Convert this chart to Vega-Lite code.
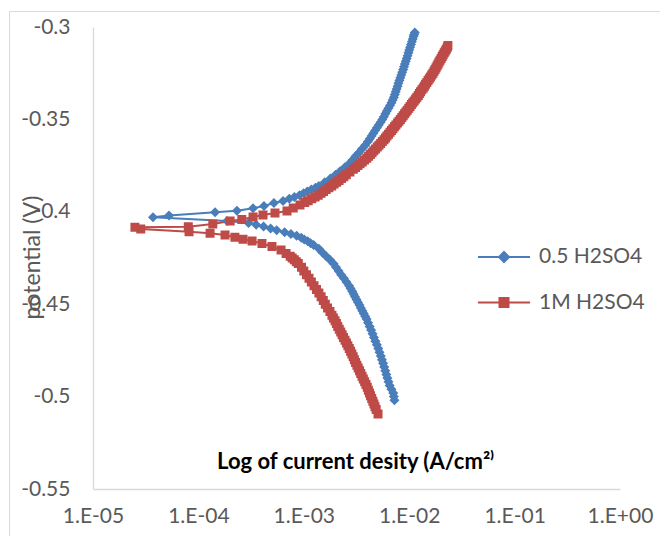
{
  "$schema": "https://vega.github.io/schema/vega-lite/v6.json",
  "width": 651,
  "height": 525,
  "autosize": {"type": "none"},
  "padding": {"left": 9, "top": 11, "right": 0, "bottom": 0},
  "background": "white",
  "config": {
    "view": {"stroke": "#d9d9d9", "strokeWidth": 1},
    "axis": {
      "grid": false, "ticks": false, "tickSize": 0,
      "domainColor": "#d9d9d9", "domainWidth": 1.3,
      "labelColor": "#595959", "labelFont": "Lato", "labelFontSize": 21,
      "titleColor": "#595959", "titleFont": "Lato", "titleFontSize": 23, "titleFontWeight": "normal"
    }
  },
  "data": {"values": [
    {"s":"0.5 H2SO4","j":7.24e-3,"v":-0.502},
    {"s":"0.5 H2SO4","j":7.15e-3,"v":-0.500},
    {"s":"0.5 H2SO4","j":7.06e-3,"v":-0.498},
    {"s":"0.5 H2SO4","j":6.78e-3,"v":-0.496},
    {"s":"0.5 H2SO4","j":6.52e-3,"v":-0.494},
    {"s":"0.5 H2SO4","j":6.36e-3,"v":-0.492},
    {"s":"0.5 H2SO4","j":6.21e-3,"v":-0.490},
    {"s":"0.5 H2SO4","j":6.07e-3,"v":-0.488},
    {"s":"0.5 H2SO4","j":5.93e-3,"v":-0.486},
    {"s":"0.5 H2SO4","j":5.79e-3,"v":-0.484},
    {"s":"0.5 H2SO4","j":5.65e-3,"v":-0.482},
    {"s":"0.5 H2SO4","j":5.51e-3,"v":-0.480},
    {"s":"0.5 H2SO4","j":5.38e-3,"v":-0.478},
    {"s":"0.5 H2SO4","j":5.23e-3,"v":-0.476},
    {"s":"0.5 H2SO4","j":5.09e-3,"v":-0.474},
    {"s":"0.5 H2SO4","j":4.93e-3,"v":-0.472},
    {"s":"0.5 H2SO4","j":4.78e-3,"v":-0.470},
    {"s":"0.5 H2SO4","j":4.63e-3,"v":-0.468},
    {"s":"0.5 H2SO4","j":4.49e-3,"v":-0.466},
    {"s":"0.5 H2SO4","j":4.35e-3,"v":-0.464},
    {"s":"0.5 H2SO4","j":4.21e-3,"v":-0.462},
    {"s":"0.5 H2SO4","j":4.07e-3,"v":-0.460},
    {"s":"0.5 H2SO4","j":3.94e-3,"v":-0.458},
    {"s":"0.5 H2SO4","j":3.82e-3,"v":-0.4565},
    {"s":"0.5 H2SO4","j":3.70e-3,"v":-0.455},
    {"s":"0.5 H2SO4","j":3.59e-3,"v":-0.4535},
    {"s":"0.5 H2SO4","j":3.48e-3,"v":-0.452},
    {"s":"0.5 H2SO4","j":3.37e-3,"v":-0.4505},
    {"s":"0.5 H2SO4","j":3.26e-3,"v":-0.449},
    {"s":"0.5 H2SO4","j":3.16e-3,"v":-0.4475},
    {"s":"0.5 H2SO4","j":3.06e-3,"v":-0.446},
    {"s":"0.5 H2SO4","j":2.97e-3,"v":-0.4445},
    {"s":"0.5 H2SO4","j":2.88e-3,"v":-0.443},
    {"s":"0.5 H2SO4","j":2.78e-3,"v":-0.4415},
    {"s":"0.5 H2SO4","j":2.69e-3,"v":-0.440},
    {"s":"0.5 H2SO4","j":2.54e-3,"v":-0.438},
    {"s":"0.5 H2SO4","j":2.40e-3,"v":-0.436},
    {"s":"0.5 H2SO4","j":2.26e-3,"v":-0.434},
    {"s":"0.5 H2SO4","j":2.14e-3,"v":-0.432},
    {"s":"0.5 H2SO4","j":2.02e-3,"v":-0.430},
    {"s":"0.5 H2SO4","j":1.91e-3,"v":-0.428},
    {"s":"0.5 H2SO4","j":1.77e-3,"v":-0.426},
    {"s":"0.5 H2SO4","j":1.63e-3,"v":-0.424},
    {"s":"0.5 H2SO4","j":1.50e-3,"v":-0.422},
    {"s":"0.5 H2SO4","j":1.39e-3,"v":-0.420},
    {"s":"0.5 H2SO4","j":1.24e-3,"v":-0.418},
    {"s":"0.5 H2SO4","j":1.16e-3,"v":-0.417},
    {"s":"0.5 H2SO4","j":1.09e-3,"v":-0.416},
    {"s":"0.5 H2SO4","j":1.01e-3,"v":-0.415},
    {"s":"0.5 H2SO4","j":9.46e-4,"v":-0.414},
    {"s":"0.5 H2SO4","j":8.55e-4,"v":-0.413},
    {"s":"0.5 H2SO4","j":7.55e-4,"v":-0.412},
    {"s":"0.5 H2SO4","j":6.58e-4,"v":-0.411},
    {"s":"0.5 H2SO4","j":5.53e-4,"v":-0.410},
    {"s":"0.5 H2SO4","j":4.84e-4,"v":-0.409},
    {"s":"0.5 H2SO4","j":4.15e-4,"v":-0.408},
    {"s":"0.5 H2SO4","j":3.53e-4,"v":-0.407},
    {"s":"0.5 H2SO4","j":2.99e-4,"v":-0.406},
    {"s":"0.5 H2SO4","j":1.87e-4,"v":-0.405},
    {"s":"0.5 H2SO4","j":3.71e-5,"v":-0.403},
    {"s":"0.5 H2SO4","j":5.26e-5,"v":-0.402},
    {"s":"0.5 H2SO4","j":1.44e-4,"v":-0.4003},
    {"s":"0.5 H2SO4","j":2.32e-4,"v":-0.3994},
    {"s":"0.5 H2SO4","j":3.30e-4,"v":-0.3981},
    {"s":"0.5 H2SO4","j":4.19e-4,"v":-0.3969},
    {"s":"0.5 H2SO4","j":5.21e-4,"v":-0.3952},
    {"s":"0.5 H2SO4","j":6.35e-4,"v":-0.3942},
    {"s":"0.5 H2SO4","j":7.28e-4,"v":-0.393},
    {"s":"0.5 H2SO4","j":8.15e-4,"v":-0.392},
    {"s":"0.5 H2SO4","j":9.12e-4,"v":-0.391},
    {"s":"0.5 H2SO4","j":9.95e-4,"v":-0.390},
    {"s":"0.5 H2SO4","j":1.08e-3,"v":-0.389},
    {"s":"0.5 H2SO4","j":1.18e-3,"v":-0.388},
    {"s":"0.5 H2SO4","j":1.29e-3,"v":-0.387},
    {"s":"0.5 H2SO4","j":1.39e-3,"v":-0.386},
    {"s":"0.5 H2SO4","j":1.58e-3,"v":-0.384},
    {"s":"0.5 H2SO4","j":1.79e-3,"v":-0.382},
    {"s":"0.5 H2SO4","j":2.00e-3,"v":-0.380},
    {"s":"0.5 H2SO4","j":2.21e-3,"v":-0.378},
    {"s":"0.5 H2SO4","j":2.44e-3,"v":-0.376},
    {"s":"0.5 H2SO4","j":2.69e-3,"v":-0.374},
    {"s":"0.5 H2SO4","j":2.90e-3,"v":-0.372},
    {"s":"0.5 H2SO4","j":3.10e-3,"v":-0.370},
    {"s":"0.5 H2SO4","j":3.33e-3,"v":-0.368},
    {"s":"0.5 H2SO4","j":3.56e-3,"v":-0.366},
    {"s":"0.5 H2SO4","j":3.82e-3,"v":-0.364},
    {"s":"0.5 H2SO4","j":4.06e-3,"v":-0.362},
    {"s":"0.5 H2SO4","j":4.23e-3,"v":-0.3605},
    {"s":"0.5 H2SO4","j":4.40e-3,"v":-0.359},
    {"s":"0.5 H2SO4","j":4.57e-3,"v":-0.3575},
    {"s":"0.5 H2SO4","j":4.75e-3,"v":-0.356},
    {"s":"0.5 H2SO4","j":4.94e-3,"v":-0.3545},
    {"s":"0.5 H2SO4","j":5.14e-3,"v":-0.353},
    {"s":"0.5 H2SO4","j":5.35e-3,"v":-0.3515},
    {"s":"0.5 H2SO4","j":5.56e-3,"v":-0.350},
    {"s":"0.5 H2SO4","j":5.75e-3,"v":-0.3485},
    {"s":"0.5 H2SO4","j":5.94e-3,"v":-0.347},
    {"s":"0.5 H2SO4","j":6.14e-3,"v":-0.3455},
    {"s":"0.5 H2SO4","j":6.35e-3,"v":-0.344},
    {"s":"0.5 H2SO4","j":6.57e-3,"v":-0.3425},
    {"s":"0.5 H2SO4","j":6.79e-3,"v":-0.341},
    {"s":"0.5 H2SO4","j":6.97e-3,"v":-0.3395},
    {"s":"0.5 H2SO4","j":7.16e-3,"v":-0.338},
    {"s":"0.5 H2SO4","j":7.30e-3,"v":-0.3365},
    {"s":"0.5 H2SO4","j":7.45e-3,"v":-0.335},
    {"s":"0.5 H2SO4","j":7.60e-3,"v":-0.3335},
    {"s":"0.5 H2SO4","j":7.76e-3,"v":-0.332},
    {"s":"0.5 H2SO4","j":7.91e-3,"v":-0.3305},
    {"s":"0.5 H2SO4","j":8.07e-3,"v":-0.329},
    {"s":"0.5 H2SO4","j":8.24e-3,"v":-0.3275},
    {"s":"0.5 H2SO4","j":8.41e-3,"v":-0.326},
    {"s":"0.5 H2SO4","j":8.59e-3,"v":-0.3245},
    {"s":"0.5 H2SO4","j":8.77e-3,"v":-0.323},
    {"s":"0.5 H2SO4","j":8.93e-3,"v":-0.3215},
    {"s":"0.5 H2SO4","j":9.10e-3,"v":-0.320},
    {"s":"0.5 H2SO4","j":9.28e-3,"v":-0.3185},
    {"s":"0.5 H2SO4","j":9.46e-3,"v":-0.317},
    {"s":"0.5 H2SO4","j":9.65e-3,"v":-0.3155},
    {"s":"0.5 H2SO4","j":9.84e-3,"v":-0.314},
    {"s":"0.5 H2SO4","j":1.00e-2,"v":-0.3125},
    {"s":"0.5 H2SO4","j":1.02e-2,"v":-0.311},
    {"s":"0.5 H2SO4","j":1.04e-2,"v":-0.3095},
    {"s":"0.5 H2SO4","j":1.06e-2,"v":-0.308},
    {"s":"0.5 H2SO4","j":1.08e-2,"v":-0.3065},
    {"s":"0.5 H2SO4","j":1.10e-2,"v":-0.305},
    {"s":"0.5 H2SO4","j":1.115e-2,"v":-0.304},
    {"s":"0.5 H2SO4","j":1.13e-2,"v":-0.303},
    {"s":"1M H2SO4","j":5.06e-3,"v":-0.5094},
    {"s":"1M H2SO4","j":4.86e-3,"v":-0.507},
    {"s":"1M H2SO4","j":4.74e-3,"v":-0.5055},
    {"s":"1M H2SO4","j":4.63e-3,"v":-0.504},
    {"s":"1M H2SO4","j":4.52e-3,"v":-0.5025},
    {"s":"1M H2SO4","j":4.41e-3,"v":-0.501},
    {"s":"1M H2SO4","j":4.30e-3,"v":-0.4995},
    {"s":"1M H2SO4","j":4.20e-3,"v":-0.498},
    {"s":"1M H2SO4","j":4.10e-3,"v":-0.4965},
    {"s":"1M H2SO4","j":4.00e-3,"v":-0.495},
    {"s":"1M H2SO4","j":3.89e-3,"v":-0.4935},
    {"s":"1M H2SO4","j":3.78e-3,"v":-0.492},
    {"s":"1M H2SO4","j":3.67e-3,"v":-0.4905},
    {"s":"1M H2SO4","j":3.57e-3,"v":-0.489},
    {"s":"1M H2SO4","j":3.47e-3,"v":-0.4875},
    {"s":"1M H2SO4","j":3.38e-3,"v":-0.486},
    {"s":"1M H2SO4","j":3.28e-3,"v":-0.4845},
    {"s":"1M H2SO4","j":3.19e-3,"v":-0.483},
    {"s":"1M H2SO4","j":3.10e-3,"v":-0.4815},
    {"s":"1M H2SO4","j":3.02e-3,"v":-0.480},
    {"s":"1M H2SO4","j":2.94e-3,"v":-0.4785},
    {"s":"1M H2SO4","j":2.86e-3,"v":-0.477},
    {"s":"1M H2SO4","j":2.78e-3,"v":-0.4755},
    {"s":"1M H2SO4","j":2.70e-3,"v":-0.474},
    {"s":"1M H2SO4","j":2.62e-3,"v":-0.4725},
    {"s":"1M H2SO4","j":2.54e-3,"v":-0.471},
    {"s":"1M H2SO4","j":2.46e-3,"v":-0.4695},
    {"s":"1M H2SO4","j":2.38e-3,"v":-0.468},
    {"s":"1M H2SO4","j":2.31e-3,"v":-0.4665},
    {"s":"1M H2SO4","j":2.24e-3,"v":-0.465},
    {"s":"1M H2SO4","j":2.17e-3,"v":-0.4635},
    {"s":"1M H2SO4","j":2.10e-3,"v":-0.462},
    {"s":"1M H2SO4","j":2.04e-3,"v":-0.4605},
    {"s":"1M H2SO4","j":1.98e-3,"v":-0.459},
    {"s":"1M H2SO4","j":1.91e-3,"v":-0.4575},
    {"s":"1M H2SO4","j":1.85e-3,"v":-0.456},
    {"s":"1M H2SO4","j":1.77e-3,"v":-0.454},
    {"s":"1M H2SO4","j":1.68e-3,"v":-0.452},
    {"s":"1M H2SO4","j":1.60e-3,"v":-0.450},
    {"s":"1M H2SO4","j":1.53e-3,"v":-0.448},
    {"s":"1M H2SO4","j":1.46e-3,"v":-0.446},
    {"s":"1M H2SO4","j":1.39e-3,"v":-0.444},
    {"s":"1M H2SO4","j":1.32e-3,"v":-0.442},
    {"s":"1M H2SO4","j":1.25e-3,"v":-0.440},
    {"s":"1M H2SO4","j":1.18e-3,"v":-0.438},
    {"s":"1M H2SO4","j":1.12e-3,"v":-0.436},
    {"s":"1M H2SO4","j":1.06e-3,"v":-0.434},
    {"s":"1M H2SO4","j":1.00e-3,"v":-0.432},
    {"s":"1M H2SO4","j":9.51e-4,"v":-0.430},
    {"s":"1M H2SO4","j":8.87e-4,"v":-0.428},
    {"s":"1M H2SO4","j":8.49e-4,"v":-0.427},
    {"s":"1M H2SO4","j":8.13e-4,"v":-0.426},
    {"s":"1M H2SO4","j":7.76e-4,"v":-0.425},
    {"s":"1M H2SO4","j":7.43e-4,"v":-0.424},
    {"s":"1M H2SO4","j":6.79e-4,"v":-0.4225},
    {"s":"1M H2SO4","j":6.08e-4,"v":-0.4207},
    {"s":"1M H2SO4","j":4.99e-4,"v":-0.4188},
    {"s":"1M H2SO4","j":4.01e-4,"v":-0.4172},
    {"s":"1M H2SO4","j":3.23e-4,"v":-0.4158},
    {"s":"1M H2SO4","j":2.65e-4,"v":-0.4149},
    {"s":"1M H2SO4","j":2.22e-4,"v":-0.4138},
    {"s":"1M H2SO4","j":1.79e-4,"v":-0.4126},
    {"s":"1M H2SO4","j":1.29e-4,"v":-0.4116},
    {"s":"1M H2SO4","j":8.15e-5,"v":-0.4108},
    {"s":"1M H2SO4","j":2.84e-5,"v":-0.4093},
    {"s":"1M H2SO4","j":2.50e-5,"v":-0.4084},
    {"s":"1M H2SO4","j":8.02e-5,"v":-0.4081},
    {"s":"1M H2SO4","j":1.37e-4,"v":-0.4066},
    {"s":"1M H2SO4","j":2.00e-4,"v":-0.4050},
    {"s":"1M H2SO4","j":2.58e-4,"v":-0.4041},
    {"s":"1M H2SO4","j":3.30e-4,"v":-0.4028},
    {"s":"1M H2SO4","j":4.10e-4,"v":-0.4017},
    {"s":"1M H2SO4","j":5.33e-4,"v":-0.4006},
    {"s":"1M H2SO4","j":6.93e-4,"v":-0.3996},
    {"s":"1M H2SO4","j":7.94e-4,"v":-0.3980},
    {"s":"1M H2SO4","j":9.20e-4,"v":-0.3963},
    {"s":"1M H2SO4","j":1.02e-3,"v":-0.395},
    {"s":"1M H2SO4","j":1.10e-3,"v":-0.394},
    {"s":"1M H2SO4","j":1.19e-3,"v":-0.393},
    {"s":"1M H2SO4","j":1.28e-3,"v":-0.392},
    {"s":"1M H2SO4","j":1.37e-3,"v":-0.391},
    {"s":"1M H2SO4","j":1.46e-3,"v":-0.390},
    {"s":"1M H2SO4","j":1.54e-3,"v":-0.389},
    {"s":"1M H2SO4","j":1.63e-3,"v":-0.388},
    {"s":"1M H2SO4","j":1.73e-3,"v":-0.387},
    {"s":"1M H2SO4","j":1.84e-3,"v":-0.386},
    {"s":"1M H2SO4","j":1.94e-3,"v":-0.385},
    {"s":"1M H2SO4","j":2.05e-3,"v":-0.384},
    {"s":"1M H2SO4","j":2.16e-3,"v":-0.383},
    {"s":"1M H2SO4","j":2.28e-3,"v":-0.382},
    {"s":"1M H2SO4","j":2.40e-3,"v":-0.381},
    {"s":"1M H2SO4","j":2.53e-3,"v":-0.380},
    {"s":"1M H2SO4","j":2.74e-3,"v":-0.3785},
    {"s":"1M H2SO4","j":2.95e-3,"v":-0.377},
    {"s":"1M H2SO4","j":3.10e-3,"v":-0.376},
    {"s":"1M H2SO4","j":3.26e-3,"v":-0.375},
    {"s":"1M H2SO4","j":3.42e-3,"v":-0.374},
    {"s":"1M H2SO4","j":3.59e-3,"v":-0.373},
    {"s":"1M H2SO4","j":3.77e-3,"v":-0.372},
    {"s":"1M H2SO4","j":3.96e-3,"v":-0.371},
    {"s":"1M H2SO4","j":4.12e-3,"v":-0.370},
    {"s":"1M H2SO4","j":4.28e-3,"v":-0.369},
    {"s":"1M H2SO4","j":4.44e-3,"v":-0.368},
    {"s":"1M H2SO4","j":4.61e-3,"v":-0.367},
    {"s":"1M H2SO4","j":4.79e-3,"v":-0.366},
    {"s":"1M H2SO4","j":4.98e-3,"v":-0.365},
    {"s":"1M H2SO4","j":5.17e-3,"v":-0.364},
    {"s":"1M H2SO4","j":5.36e-3,"v":-0.363},
    {"s":"1M H2SO4","j":5.56e-3,"v":-0.362},
    {"s":"1M H2SO4","j":5.77e-3,"v":-0.361},
    {"s":"1M H2SO4","j":5.96e-3,"v":-0.360},
    {"s":"1M H2SO4","j":6.15e-3,"v":-0.359},
    {"s":"1M H2SO4","j":6.36e-3,"v":-0.358},
    {"s":"1M H2SO4","j":6.58e-3,"v":-0.357},
    {"s":"1M H2SO4","j":6.79e-3,"v":-0.356},
    {"s":"1M H2SO4","j":7.01e-3,"v":-0.355},
    {"s":"1M H2SO4","j":7.24e-3,"v":-0.354},
    {"s":"1M H2SO4","j":7.48e-3,"v":-0.353},
    {"s":"1M H2SO4","j":7.74e-3,"v":-0.352},
    {"s":"1M H2SO4","j":8.00e-3,"v":-0.351},
    {"s":"1M H2SO4","j":8.25e-3,"v":-0.350},
    {"s":"1M H2SO4","j":8.51e-3,"v":-0.349},
    {"s":"1M H2SO4","j":8.77e-3,"v":-0.348},
    {"s":"1M H2SO4","j":9.04e-3,"v":-0.347},
    {"s":"1M H2SO4","j":9.31e-3,"v":-0.346},
    {"s":"1M H2SO4","j":9.59e-3,"v":-0.345},
    {"s":"1M H2SO4","j":9.90e-3,"v":-0.344},
    {"s":"1M H2SO4","j":1.02e-2,"v":-0.343},
    {"s":"1M H2SO4","j":1.05e-2,"v":-0.342},
    {"s":"1M H2SO4","j":1.08e-2,"v":-0.341},
    {"s":"1M H2SO4","j":1.115e-2,"v":-0.340},
    {"s":"1M H2SO4","j":1.15e-2,"v":-0.339},
    {"s":"1M H2SO4","j":1.185e-2,"v":-0.338},
    {"s":"1M H2SO4","j":1.22e-2,"v":-0.337},
    {"s":"1M H2SO4","j":1.25e-2,"v":-0.336},
    {"s":"1M H2SO4","j":1.28e-2,"v":-0.335},
    {"s":"1M H2SO4","j":1.32e-2,"v":-0.334},
    {"s":"1M H2SO4","j":1.36e-2,"v":-0.333},
    {"s":"1M H2SO4","j":1.395e-2,"v":-0.332},
    {"s":"1M H2SO4","j":1.43e-2,"v":-0.331},
    {"s":"1M H2SO4","j":1.47e-2,"v":-0.330},
    {"s":"1M H2SO4","j":1.51e-2,"v":-0.329},
    {"s":"1M H2SO4","j":1.55e-2,"v":-0.328},
    {"s":"1M H2SO4","j":1.59e-2,"v":-0.327},
    {"s":"1M H2SO4","j":1.635e-2,"v":-0.326},
    {"s":"1M H2SO4","j":1.68e-2,"v":-0.325},
    {"s":"1M H2SO4","j":1.72e-2,"v":-0.324},
    {"s":"1M H2SO4","j":1.76e-2,"v":-0.323},
    {"s":"1M H2SO4","j":1.80e-2,"v":-0.322},
    {"s":"1M H2SO4","j":1.84e-2,"v":-0.321},
    {"s":"1M H2SO4","j":1.88e-2,"v":-0.320},
    {"s":"1M H2SO4","j":1.92e-2,"v":-0.319},
    {"s":"1M H2SO4","j":1.965e-2,"v":-0.318},
    {"s":"1M H2SO4","j":2.01e-2,"v":-0.317},
    {"s":"1M H2SO4","j":2.055e-2,"v":-0.316},
    {"s":"1M H2SO4","j":2.10e-2,"v":-0.315},
    {"s":"1M H2SO4","j":2.15e-2,"v":-0.314},
    {"s":"1M H2SO4","j":2.20e-2,"v":-0.313},
    {"s":"1M H2SO4","j":2.25e-2,"v":-0.312},
    {"s":"1M H2SO4","j":2.30e-2,"v":-0.311},
    {"s":"1M H2SO4","j":2.33e-2,"v":-0.310}
  ]},
  "encoding": {
    "x": {
      "field": "j", "type": "quantitative",
      "scale": {"type": "log", "domain": [0.00001, 1], "range": [84, 611], "nice": false},
      "axis": {
        "orient": "bottom", "offset": -47,
        "values": [0.00001, 0.0001, 0.001, 0.01, 0.1, 1],
        "labelExpr": "datum.value < 5e-5 ? '1.E-05' : datum.value < 5e-4 ? '1.E-04' : datum.value < 5e-3 ? '1.E-03' : datum.value < 5e-2 ? '1.E-02' : datum.value < 0.5 ? '1.E-01' : '1.E+00'",
        "labelPadding": 16, "labelFlush": false, "labelOverlap": false,
        "title": "Log of current desity (A/cm²⁾",
        "titleX": 346, "titleY": -21, "titleAlign": "center", "titleBaseline": "alphabetic",
        "titleFontWeight": "bold", "titleColor": "#000000", "titleFontSize": 22
      }
    },
    "y": {
      "field": "v", "type": "quantitative",
      "scale": {"domain": [-0.55, -0.3], "range": [478, 16], "zero": false, "nice": false},
      "axis": {
        "orient": "left", "offset": -84,
        "values": [-0.55, -0.5, -0.45, -0.4, -0.35, -0.3],
        "labelExpr": "'' + datum.value",
        "labelPadding": 23, "labelOverlap": false,
        "title": "potential (V)",
        "titleX": -61, "titleY": 246, "titleAngle": -90, "titleAlign": "center", "titleBaseline": "middle"
      }
    }
  },
  "layer": [
    {
      "mark": {"type": "line", "strokeWidth": 2},
      "encoding": {
        "order": {"value": null},
        "stroke": {
          "field": "s", "type": "nominal",
          "scale": {"domain": ["0.5 H2SO4", "1M H2SO4"], "range": ["#4a7ebb", "#be4b48"]},
          "legend": {
            "orient": "none", "legendX": 484, "legendY": 235, "title": null, "padding": 0,
            "symbolSize": 225, "symbolStrokeWidth": 2,
            "labelFontSize": 21, "labelFont": "Lato", "labelColor": "#595959", "rowPadding": 24, "labelOffset": 24
          }
        }
      }
    },
    {
      "mark": {"type": "point", "filled": true, "opacity": 1, "strokeWidth": 0},
      "encoding": {
        "fill": {
          "field": "s", "type": "nominal",
          "scale": {"domain": ["0.5 H2SO4", "1M H2SO4"], "range": ["#4a7ebb", "#be4b48"]},
          "legend": null
        },
        "shape": {
          "field": "s", "type": "nominal",
          "scale": {"domain": ["0.5 H2SO4", "1M H2SO4"], "range": ["M-2.6,0H2.6M0,-0.5L0.5,0L0,0.5L-0.5,0Z", "M-2.9,0H2.9M-0.5,-0.5H0.5V0.5H-0.5Z"]},
          "legend": null
        },
        "size": {
          "field": "s", "type": "nominal",
          "scale": {"domain": ["0.5 H2SO4", "1M H2SO4"], "range": [400, 324]},
          "legend": null
        }
      }
    }
  ]
}
